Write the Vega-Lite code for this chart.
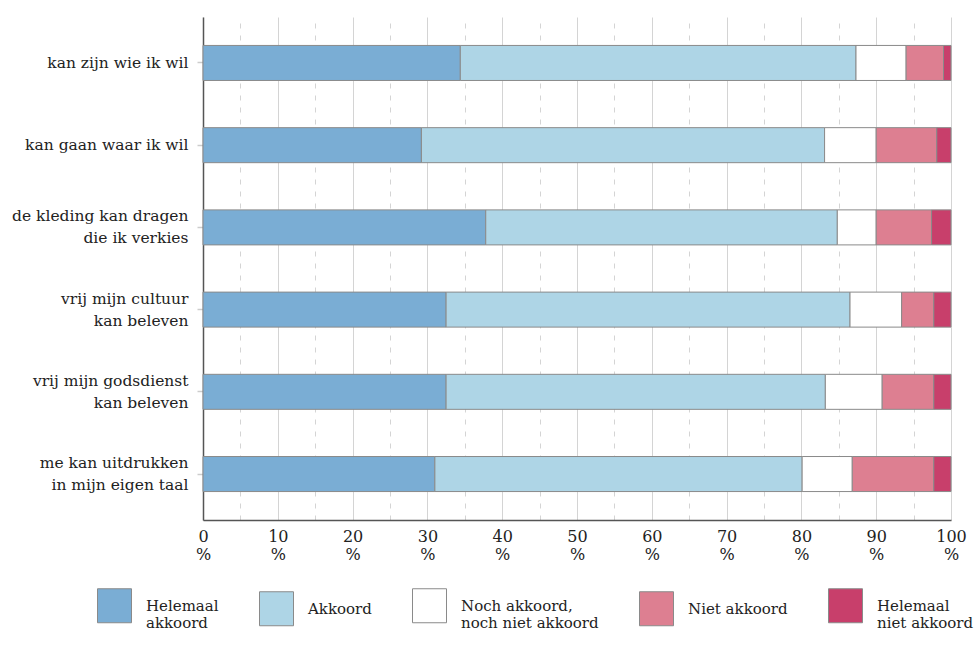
{
  "$schema": "https://vega.github.io/schema/vega-lite/v6.json",
  "width": 748,
  "height": 503,
  "autosize": {"type": "none"},
  "padding": {"left": 203, "top": 17, "right": 28, "bottom": 135},
  "background": "#ffffff",
  "config": {
    "view": {"stroke": null},
    "font": "DejaVu Serif"
  },
  "data": {
    "values": [
      {"stelling": "kan zijn wie ik wil", "antwoord": "Helemaal|akkoord", "o": 1, "pct": 34.4},
      {"stelling": "kan zijn wie ik wil", "antwoord": "Akkoord", "o": 2, "pct": 52.9},
      {"stelling": "kan zijn wie ik wil", "antwoord": "Noch akkoord,|noch niet akkoord", "o": 3, "pct": 6.7},
      {"stelling": "kan zijn wie ik wil", "antwoord": "Niet akkoord", "o": 4, "pct": 5.0},
      {"stelling": "kan zijn wie ik wil", "antwoord": "Helemaal|niet akkoord", "o": 5, "pct": 1.0},

      {"stelling": "kan gaan waar ik wil", "antwoord": "Helemaal|akkoord", "o": 1, "pct": 29.2},
      {"stelling": "kan gaan waar ik wil", "antwoord": "Akkoord", "o": 2, "pct": 53.9},
      {"stelling": "kan gaan waar ik wil", "antwoord": "Noch akkoord,|noch niet akkoord", "o": 3, "pct": 6.9},
      {"stelling": "kan gaan waar ik wil", "antwoord": "Niet akkoord", "o": 4, "pct": 8.1},
      {"stelling": "kan gaan waar ik wil", "antwoord": "Helemaal|niet akkoord", "o": 5, "pct": 1.9},

      {"stelling": "de kleding kan dragen|die ik verkies", "antwoord": "Helemaal|akkoord", "o": 1, "pct": 37.8},
      {"stelling": "de kleding kan dragen|die ik verkies", "antwoord": "Akkoord", "o": 2, "pct": 47.0},
      {"stelling": "de kleding kan dragen|die ik verkies", "antwoord": "Noch akkoord,|noch niet akkoord", "o": 3, "pct": 5.2},
      {"stelling": "de kleding kan dragen|die ik verkies", "antwoord": "Niet akkoord", "o": 4, "pct": 7.4},
      {"stelling": "de kleding kan dragen|die ik verkies", "antwoord": "Helemaal|niet akkoord", "o": 5, "pct": 2.6},

      {"stelling": "vrij mijn cultuur |kan beleven", "antwoord": "Helemaal|akkoord", "o": 1, "pct": 32.5},
      {"stelling": "vrij mijn cultuur |kan beleven", "antwoord": "Akkoord", "o": 2, "pct": 54.0},
      {"stelling": "vrij mijn cultuur |kan beleven", "antwoord": "Noch akkoord,|noch niet akkoord", "o": 3, "pct": 6.9},
      {"stelling": "vrij mijn cultuur |kan beleven", "antwoord": "Niet akkoord", "o": 4, "pct": 4.3},
      {"stelling": "vrij mijn cultuur |kan beleven", "antwoord": "Helemaal|niet akkoord", "o": 5, "pct": 2.3},

      {"stelling": "vrij mijn godsdienst |kan beleven", "antwoord": "Helemaal|akkoord", "o": 1, "pct": 32.5},
      {"stelling": "vrij mijn godsdienst |kan beleven", "antwoord": "Akkoord", "o": 2, "pct": 50.7},
      {"stelling": "vrij mijn godsdienst |kan beleven", "antwoord": "Noch akkoord,|noch niet akkoord", "o": 3, "pct": 7.6},
      {"stelling": "vrij mijn godsdienst |kan beleven", "antwoord": "Niet akkoord", "o": 4, "pct": 6.9},
      {"stelling": "vrij mijn godsdienst |kan beleven", "antwoord": "Helemaal|niet akkoord", "o": 5, "pct": 2.3},

      {"stelling": "me kan uitdrukken|in mijn eigen taal", "antwoord": "Helemaal|akkoord", "o": 1, "pct": 31.0},
      {"stelling": "me kan uitdrukken|in mijn eigen taal", "antwoord": "Akkoord", "o": 2, "pct": 49.1},
      {"stelling": "me kan uitdrukken|in mijn eigen taal", "antwoord": "Noch akkoord,|noch niet akkoord", "o": 3, "pct": 6.7},
      {"stelling": "me kan uitdrukken|in mijn eigen taal", "antwoord": "Niet akkoord", "o": 4, "pct": 10.9},
      {"stelling": "me kan uitdrukken|in mijn eigen taal", "antwoord": "Helemaal|niet akkoord", "o": 5, "pct": 2.3}
    ]
  },
  "mark": {"type": "bar", "stroke": "#8a8a8a", "strokeWidth": 1},
  "encoding": {
    "y": {
      "field": "stelling",
      "type": "nominal",
      "sort": null,
      "scale": {"paddingInner": 0.574, "paddingOuter": 0.346},
      "axis": {
        "title": null,
        "domainColor": "#555555",
        "domainWidth": 1.5,
        "tickColor": "#cccccc",
        "tickSize": 6,
        "tickWidth": 1.5,
        "labelPadding": 9,
        "labelFont": "DejaVu Serif",
        "labelFontSize": 15.5,
        "labelColor": "#222222",
        "labelLineHeight": 22,
        "labelOffset": {"condition": {"test": "indexof(datum.value, '|') >= 0", "value": -11}, "value": 0},
        "labelExpr": "split(datum.label, '|')",
        "labelLimit": 250
      }
    },
    "x": {
      "field": "pct",
      "type": "quantitative",
      "stack": "zero",
      "scale": {"domain": [0, 100], "nice": false},
      "axis": {
        "title": null,
        "values": [0, 5, 10, 15, 20, 25, 30, 35, 40, 45, 50, 55, 60, 65, 70, 75, 80, 85, 90, 95, 100],
        "labelExpr": "datum.value % 10 == 0 ? [datum.label, '%'] : ''",
        "labelFont": "DejaVu Serif",
        "labelFontSize": 16,
        "labelColor": "#222222",
        "labelLineHeight": 18,
        "labelPadding": 8,
        "labelBaseline": "top",
        "labelFlush": false,
        "labelOverlap": false,
        "ticks": false,
        "domainColor": "#555555",
        "domainWidth": 1.5,
        "grid": true,
        "gridColor": "#d4d4d4",
        "gridWidth": 1,
        "gridDash": {"condition": {"test": "datum.value % 10 != 0", "value": [5, 7]}, "value": []}
      }
    },
    "color": {
      "field": "antwoord",
      "type": "nominal",
      "scale": {
        "domain": ["Helemaal|akkoord", "Akkoord", "Noch akkoord,|noch niet akkoord", "Niet akkoord", "Helemaal|niet akkoord"],
        "range": ["#7aadd4", "#aed5e6", "#ffffff", "#dd7f91", "#c83f6b"]
      },
      "legend": {
        "title": null,
        "orient": "none",
        "legendX": -106,
        "legendY": 571,
        "direction": "horizontal",
        "columns": 5,
        "columnPadding": 38,
        "symbolType": "square",
        "symbolSize": 1156,
        "symbolStrokeColor": "#8a8a8a",
        "symbolStrokeWidth": 1,
        "symbolOpacity": 1,
        "labelOffset": 14,
        "labelFont": "DejaVu Serif",
        "labelFontSize": 15,
        "labelColor": "#222222",
        "labelLimit": 300,
        "labelExpr": "split(datum.label, '|')"
      }
    },
    "order": {"field": "o", "type": "quantitative"}
  }
}
